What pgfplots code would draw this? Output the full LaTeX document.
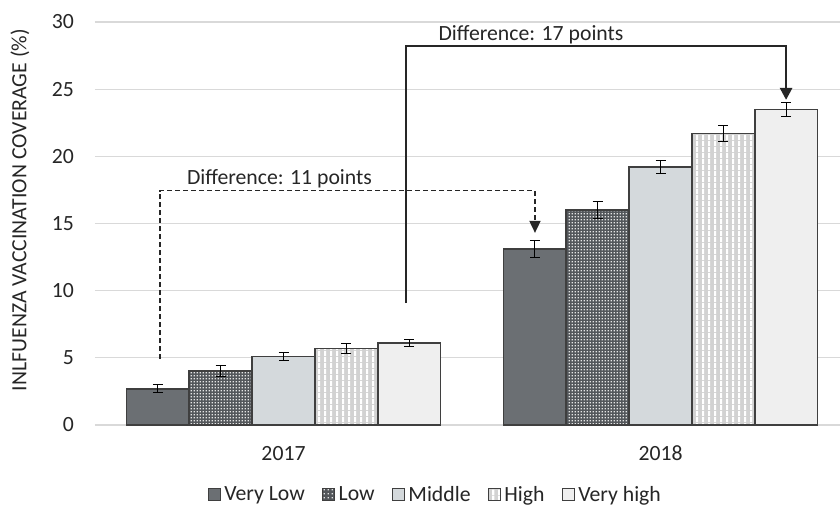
\documentclass[border=0pt]{standalone}
\usepackage{pgfplots}
\pgfplotsset{compat=1.18}
\usepackage{fontspec}
\setmainfont{Carlito}
\usetikzlibrary{patterns,arrows.meta}
\pgfdeclarepatternformonly{vstripes}{\pgfqpoint{0bp}{0bp}}{\pgfqpoint{6bp}{6bp}}{\pgfqpoint{6bp}{6bp}}{%
  \pgfpathrectangle{\pgfqpoint{0bp}{0bp}}{\pgfqpoint{2.6bp}{6bp}}\pgfusepath{fill}}
\pgfdeclarepatternformonly{dotgrid}{\pgfqpoint{0bp}{0bp}}{\pgfqpoint{3.4bp}{3.4bp}}{\pgfqpoint{3.4bp}{3.4bp}}{%
  \pgfpathrectangle{\pgfqpoint{0.6bp}{0.6bp}}{\pgfqpoint{1.5bp}{1.5bp}}\pgfusepath{fill}}
\definecolor{cVL}{HTML}{6B6F73}
\definecolor{cL}{HTML}{53575B}
\definecolor{cM}{HTML}{D4D9DC}
\definecolor{cH}{HTML}{D2D2D2}
\definecolor{cVH}{HTML}{EFEFEF}
\definecolor{edge}{HTML}{3F3F3F}
\definecolor{gridc}{HTML}{D9D9D9}
\definecolor{txt}{HTML}{262626}
\newcommand{\fs}{\fontsize{21.8}{26}\selectfont}
\begin{document}
\fs
\begin{tikzpicture}
\begin{axis}[
  name=ax,
  scale only axis,
  width=745bp, height=403bp,
  ybar=0pt, bar width=0.1667,
  xmin=-0.5, xmax=1.476,
  ymin=0, ymax=30,
  ytick={0,5,...,30},
  xtick={0,1}, xticklabels={2017,2018},
  axis line style={draw=none},
  axis x line*=bottom,
  axis y line*=left,
  major tick length=0pt,
  xmajorgrids=false, ymajorgrids=true,
  grid style={draw=gridc, line width=1.3bp},
  /pgf/number format/assume math mode=true,
  tick label style={font=\fs, text=txt},
  yticklabel style={anchor=east, inner sep=0pt, xshift=-21bp},
  xticklabel style={anchor=base, inner sep=0pt, yshift=-35bp},
  ylabel={INLFUENZA VACCINATION COVERAGE (\%)},
  ylabel style={at={(axis description cs:-0.1007,0.533)}, anchor=center, font=\fs, text=txt},
  legend style={draw=none, at={(0.458,-0.174)}, anchor=center, legend columns=-1,
    font=\fs, text=txt, nodes={inner xsep=4bp, inner ysep=1bp},
    /tikz/every even column/.append style={column sep=13bp}},
  legend image code/.code={\draw[#1, line width=0.8bp] (0bp,-5bp) rectangle (12bp,7bp);},
  error bars/y dir=both, error bars/y explicit,
  error bars/error bar style={black, line width=1bp},
  error bars/error mark options={rotate=90, mark size=5bp, line width=1bp, black},
  every axis plot/.append style={draw=edge, line width=1.6bp},
]
\addplot[fill=cVL] coordinates {(0,2.7) +- (0,0.3) (1,13.1) +- (0,0.6)};
\addplot[fill=cL, postaction={pattern=dotgrid, pattern color=white!80!gray}] coordinates {(0,4.0) +- (0,0.42) (1,16.0) +- (0,0.62)};
\addplot[fill=cM] coordinates {(0,5.1) +- (0,0.3) (1,19.2) +- (0,0.5)};
\addplot[fill=cH, postaction={pattern=vstripes, pattern color=white}] coordinates {(0,5.7) +- (0,0.38) (1,21.7) +- (0,0.62)};
\addplot[fill=cVH] coordinates {(0,6.1) +- (0,0.25) (1,23.5) +- (0,0.5)};
\legend{Very Low,Low,Middle,High,Very high}
\draw[black!85, line width=1.8bp, dash pattern=on 5bp off 3bp, -{Triangle[width=11bp,length=12bp]}]
  (axis cs:-0.3276,4.9) |- (axis cs:0.667,17.45) -- (axis cs:0.667,14.3);
\draw[black!85, line width=2.6bp, -{Triangle[width=12bp,length=12bp]}]
  (axis cs:0.325,9.08) |- (axis cs:1.333,28.2) -- (axis cs:1.333,24.2);
\node[anchor=base, font=\fs, text=txt, inner sep=0pt] at (axis cs:-0.0106,17.87) {Difference: 11 points};
\node[anchor=base, font=\fs, text=txt, inner sep=0pt] at (axis cs:0.6565,28.66) {Difference: 17 points};
\end{axis}
\pgfresetboundingbox
\path ([xshift=-95bp,yshift=-81bp]ax.south west) rectangle ++(840bp,506bp);
\end{tikzpicture}
\end{document}
